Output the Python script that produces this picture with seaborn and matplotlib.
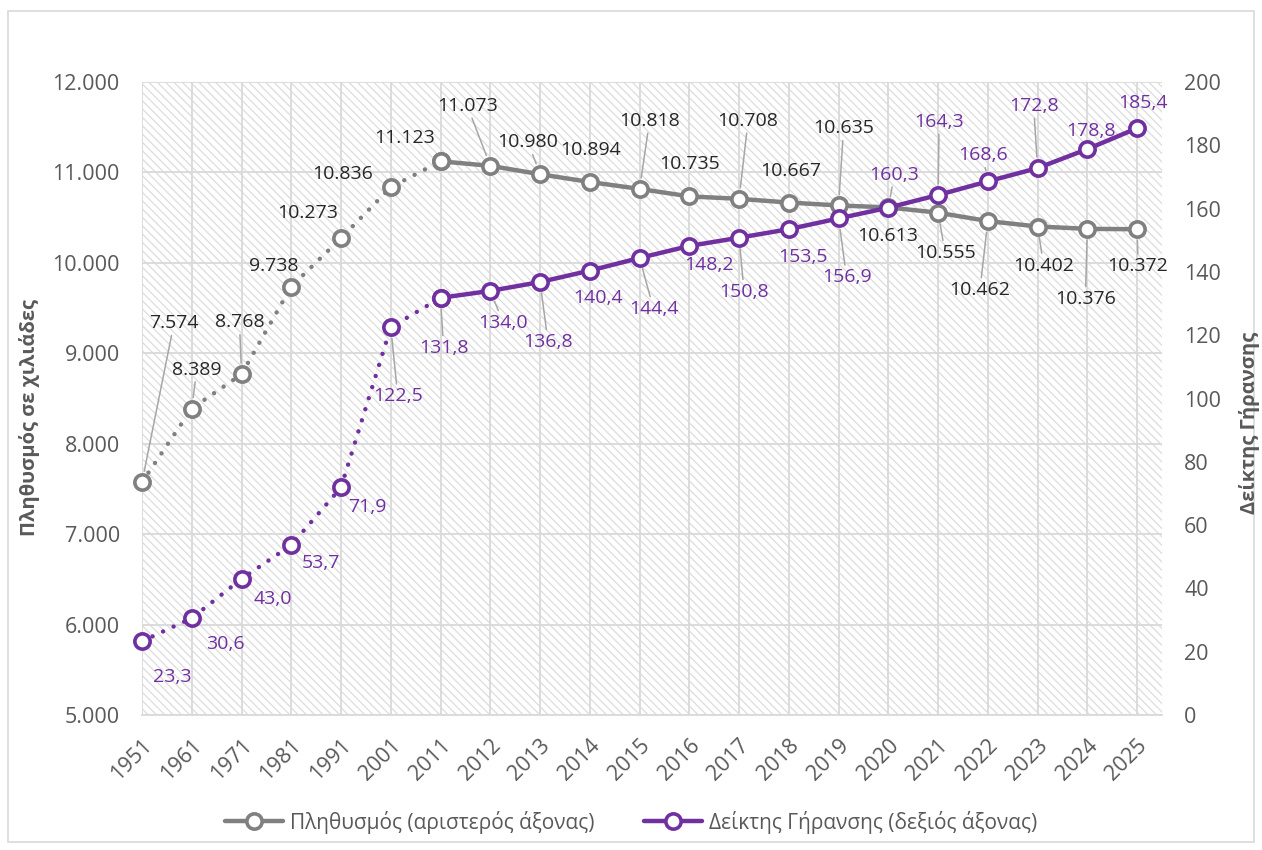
import numpy as np
import pandas as pd
import matplotlib
matplotlib.use("Agg")
import matplotlib.pyplot as plt
import matplotlib.transforms as mtransforms
from matplotlib.patches import Rectangle
from matplotlib.lines import Line2D
import seaborn as sns

# ---------------- data ----------------
years = ["1951", "1961", "1971", "1981", "1991", "2001", "2011", "2012", "2013", "2014",
         "2015", "2016", "2017", "2018", "2019", "2020", "2021", "2022", "2023", "2024", "2025"]
population = [7574, 8389, 8768, 9738, 10273, 10836, 11123, 11073, 10980, 10894,
              10818, 10735, 10708, 10667, 10635, 10613, 10555, 10462, 10402, 10376, 10372]
aging_index = [23.3, 30.6, 43.0, 53.7, 71.9, 122.5, 131.8, 134.0, 136.8, 140.4,
               144.4, 148.2, 150.8, 153.5, 156.9, 160.3, 164.3, 168.6, 172.8, 178.8, 185.4]
pop_name = "Πληθυσμός (αριστερός άξονας)"
age_name = "Δείκτης Γήρανσης (δεξιός άξονας)"
left_title = "Πληθυσμός σε χιλιάδες"
right_title = "Δείκτης Γήρανσης"
left_ticks = [5000, 6000, 7000, 8000, 9000, 10000, 11000, 12000]
right_ticks = [0, 20, 40, 60, 80, 100, 120, 140, 160, 180, 200]
census_count = 7  # 1951..2011 joined by dotted line

# ---------------- label layout (pixel offsets, leader flag) ----------------
pop_offsets = [(32, -159, 1), (5, -39, 1), (-2, -52, 1), (-18, -21, 0), (-33, -25, 0),
               (-48, -13, 0), (-36, -23, 0), (-23, -60, 1), (-12, -32, 1), (1, -32, 0),
               (10, -68, 1), (0, -32, 0), (9, -78, 1), (2, -32, 0), (5, -77, 1),
               (-1, 29, 0), (7, 40, 1), (-8, 69, 1), (6, 39, 1), (-2, 70, 1), (1, 37, 1)]
age_offsets = [(30, 36, 0), (34, 26, 0), (31, 20, 0), (30, 18, 0), (26, 20, 0),
               (7, 69, 1), (3, 50, 1), (13, 32, 1), (8, 60, 1), (8, 27, 0),
               (14, 51, 1), (20, 19, 0), (5, 54, 1), (14, 28, 0), (8, 59, 1),
               (6, -33, 1), (1, -73, 1), (-5, -26, 1), (-4, -62, 1), (4, -18, 0), (6, -25, 0)]

# ---------------- style ----------------
sns.set_style("white")
FONT = ["Open Sans", "DejaVu Sans"]
plt.rcParams["font.family"] = FONT
plt.rcParams["hatch.linewidth"] = 0.9
plt.rcParams["hatch.color"] = "#dcdcdc"

GRAY = "#808080"
PURPLE = "#7030A0"
GRID = "#d9d9d9"
TXT = "#595959"
LEADER = "#a6a6a6"

fig = plt.figure(figsize=(12.62, 8.5), dpi=100)
ax = fig.add_axes([142 / 1262, 1 - 715 / 850, 1020 / 1262, 633 / 850])
ax2 = ax.twinx()

x = np.arange(len(years))
df = pd.DataFrame({"x": x, "pop": population, "age": aging_index})
cen = df.iloc[:census_count]
ann = df.iloc[census_count - 1:]

# hatched plot background
ax.add_patch(Rectangle((0, 0), 1, 1, transform=ax.transAxes, fill=False,
                       hatch="\\\\\\\\", edgecolor="#dcdcdc", lw=0, zorder=0))

mk = dict(marker="o", markersize=11, markerfacecolor="white", markeredgewidth=2.6)
dot_ls = (0, (0.01, 2.6))

sns.lineplot(data=cen, x="x", y="pop", ax=ax, color=GRAY, lw=3.2, linestyle=dot_ls,
             dash_capstyle="round", markeredgecolor=GRAY, zorder=3, clip_on=False, **mk)
sns.lineplot(data=ann, x="x", y="pop", ax=ax, color=GRAY, lw=3.2,
             markeredgecolor=GRAY, zorder=3, clip_on=False, **mk)
sns.lineplot(data=cen, x="x", y="age", ax=ax2, color=PURPLE, lw=3.2, linestyle=dot_ls,
             dash_capstyle="round", markeredgecolor=PURPLE, zorder=4, clip_on=False, **mk)
sns.lineplot(data=ann, x="x", y="age", ax=ax2, color=PURPLE, lw=3.2,
             markeredgecolor=PURPLE, zorder=4, clip_on=False, **mk)

# axes limits/ticks
ax.set_xlim(0, 20.5)
ax.set_ylim(5000, 12000)
ax2.set_ylim(0, 200)
ax.set_yticks(left_ticks)
ax.set_yticklabels([f"{v:,}".replace(",", ".") for v in left_ticks])
ax2.set_yticks(right_ticks)
ax2.set_yticklabels([str(v) for v in right_ticks])
ax.set_xticks(x)
ax.set_xticklabels(years)
ax.set_xlabel("")
ax.set_ylabel("")
ax2.set_ylabel("")

ax.grid(True, color=GRID, lw=1.3, zorder=1)
ax.set_axisbelow(True)
for s in ["top", "left", "right"]:
    ax.spines[s].set_visible(False)
    ax2.spines[s].set_visible(False)
ax2.spines["bottom"].set_visible(False)
ax.spines["bottom"].set_color(GRID)
ax.spines["bottom"].set_linewidth(1.3)

ax.tick_params(axis="y", length=0, pad=16, labelsize=15.5, labelcolor=TXT)
ax2.tick_params(axis="y", length=0, pad=16, labelsize=15.5, labelcolor=TXT)
ax.tick_params(axis="x", length=6, width=1.3, color=GRID, pad=14, labelsize=15.5,
               labelcolor=TXT)
shift = mtransforms.ScaledTranslation(7 / 100, 0, fig.dpi_scale_trans)
for lab in ax.get_xticklabels():
    lab.set_rotation(45)
    lab.set_ha("right")
    lab.set_va("center")
    lab.set_rotation_mode("anchor")
    lab.set_transform(lab.get_transform() + shift)

# data labels
def put_labels(axis, values, offsets, fmt, color, z):
    for i, (v, (dx, dy, lead)) in enumerate(zip(values, offsets)):
        kw = {}
        if lead:
            kw["arrowprops"] = dict(arrowstyle="-", color=LEADER, lw=1.1,
                                    shrinkA=0, shrinkB=8)
        axis.annotate(fmt(v), xy=(i, v), xytext=(dx, -dy), textcoords="offset pixels",
                      ha="center", va="center", fontsize=14, color=color,
                      zorder=z, annotation_clip=False, **kw)

put_labels(ax, population, pop_offsets, lambda v: f"{v:,}".replace(",", "."), "#262626", 6)
put_labels(ax2, aging_index, age_offsets, lambda v: f"{v:.1f}".replace(".", ","), PURPLE, 7)

# axis titles
fig.text(30 / 1262, 1 - 418 / 850, left_title, rotation=90, ha="center", va="center",
         fontsize=14.5, fontweight="bold", color=TXT)
fig.text(1250 / 1262, 1 - 423 / 850, right_title, rotation=90, ha="center", va="center",
         fontsize=14.5, fontweight="bold", color=TXT)

# legend
handles = [Line2D([], [], color=GRAY, lw=3.2, markeredgecolor=GRAY, **mk),
           Line2D([], [], color=PURPLE, lw=3.2, markeredgecolor=PURPLE, **mk)]
fig.legend(handles, [pop_name, age_name], loc="center", bbox_to_anchor=(0.5, 1 - 822 / 850),
           ncol=2, frameon=False, fontsize=15, labelcolor=TXT, handlelength=2.8,
           columnspacing=2.4, handletextpad=0.3)

# chart border
fig.add_artist(Rectangle((8 / 1262, 8 / 850), 1246 / 1262, 831 / 850, transform=fig.transFigure,
                         fill=False, edgecolor=GRID, lw=1.2))

fig.savefig("out.png", dpi=100)
